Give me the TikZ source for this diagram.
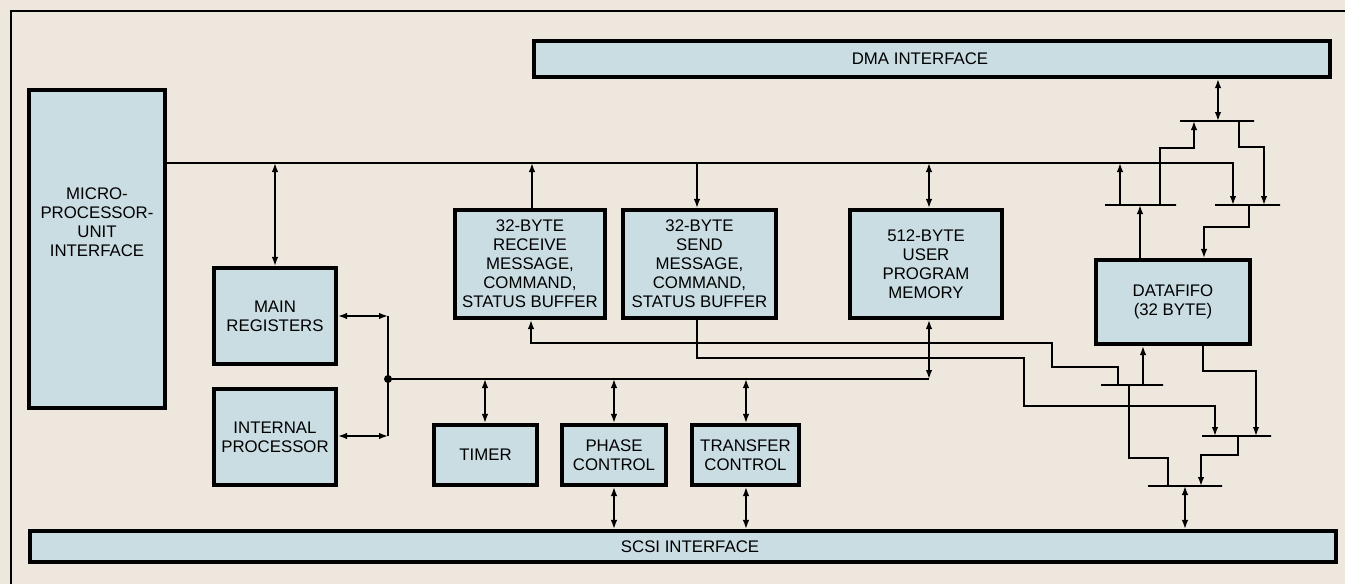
\documentclass[tikz,border=0pt]{standalone}
\usepackage{fontspec}
\setmainfont{Liberation Sans}
\usetikzlibrary{arrows.meta}
\definecolor{paper}{HTML}{EDE7DE}
\definecolor{boxblue}{HTML}{CADDE3}
\begin{document}
\begin{tikzpicture}[x=1pt,y=-1pt,
  blk/.style={draw=black, line width=3.6pt, fill=boxblue, inner sep=0pt, align=center,
    font=\fontsize{16.8}{19}\selectfont},
  lbl/.style={align=center, inner sep=0pt, font=\fontsize{16.8}{19}\selectfont},
  wire/.style={line width=1.6pt},
  arr/.style={wire,-{Latex[length=9pt,width=6.5pt]}},
  darr/.style={wire,{Latex[length=9pt,width=6.5pt]}-{Latex[length=9pt,width=6.5pt]}},
  bar/.style={draw=black, line width=1.7pt, inner sep=0pt, outer sep=0pt, minimum height=0pt},
  dot/.style={circle, fill=black, inner sep=0pt, minimum size=8pt}
]
\useasboundingbox (0,0) rectangle (1345,584);
\fill[paper] (0,0) rectangle (1345,584);
\draw[line width=1.2pt] (11,584) -- (11,11) -- (1345,11);

% blocks
\node[blk, minimum width=796.5pt, minimum height=36.5pt] (dma) at (932,59) {};
\node[lbl] (dmatext) at (920,59) {DMA INTERFACE};
\node[blk, minimum width=136.5pt, minimum height=318.5pt] (mpu) at (97,249) {};
\node[lbl] (mputext) at (97,222) {MICRO-\\PROCESSOR-\\UNIT\\INTERFACE};
\node[blk, minimum width=122.5pt, minimum height=96.5pt] (mainreg) at (275,316) {MAIN\\REGISTERS};
\node[blk, minimum width=122.5pt, minimum height=96.5pt] (intproc) at (275,437) {INTERNAL\\PROCESSOR};
\node[blk, minimum width=150.5pt, minimum height=108.5pt] (recv) at (530,264) {32-BYTE\\RECEIVE\\MESSAGE,\\COMMAND,\\STATUS BUFFER};
\node[blk, minimum width=153.5pt, minimum height=108.5pt] (send) at (699.5,264) {32-BYTE\\SEND\\MESSAGE,\\COMMAND,\\STATUS BUFFER};
\node[blk, minimum width=152.5pt, minimum height=108.5pt] (mem) at (926,264) {512-BYTE\\USER\\PROGRAM\\MEMORY};
\node[blk, minimum width=103.5pt, minimum height=60.5pt] (timer) at (485.5,455) {TIMER};
\node[blk, minimum width=104.5pt, minimum height=60.5pt] (phase) at (614,455) {PHASE\\CONTROL};
\node[blk, minimum width=107.5pt, minimum height=60.5pt] (transfer) at (745.5,455) {TRANSFER\\CONTROL};
\node[blk, minimum width=154.5pt, minimum height=84.5pt] (fifo) at (1173,302) {DATAFIFO\\(32 BYTE)};
\node[blk, minimum width=1306.5pt, minimum height=31.5pt] (scsi) at (683,546.5) {};
\node[lbl] (scsitext) at (690,546.5) {SCSI INTERFACE};

% multiplexer bars
\node[bar, minimum width=74pt] (barD) at (1217,121) {};
\node[bar, minimum width=65pt] (barE) at (1247.5,205) {};
\node[bar, minimum width=71pt] (barF) at (1140.5,205) {};
\node[bar, minimum width=62pt] (barA) at (1132,385) {};
\node[bar, minimum width=69pt] (barB) at (1236.5,436) {};
\node[bar, minimum width=74pt] (barC) at (1185,486) {};
\node[dot] (junc) at (388,379) {};

% upper bus
\draw[arr] (mpu.east |- 0,163) -- (1233,163) -- (1233,0 |- barE.north);
\draw[darr] (mainreg.north |- 0,163) -- (mainreg.north);
\draw[arr] (532,0 |- recv.north) -- (532,163);
\draw[arr] (697,163) -- (697,0 |- send.north);
\draw[darr] (929,163) -- (929,0 |- mem.north);
\draw[arr] (1120,0 |- barF.north) -- (1120,163);

% DMA side
\draw[darr] (1218,0 |- dma.south) -- (1218,0 |- barD.north);
\draw[arr] (1239,0 |- barD.south) -- (1239,147) -- (1264,147) -- (1264,0 |- barE.north);
\draw[arr] (1160,0 |- barF.north) -- (1160,148) -- (1194,148) -- (1194,0 |- barD.south);
\draw[arr] (1140,0 |- fifo.north) -- (1140,0 |- barF.south);
\draw[arr] (1249,0 |- barE.south) -- (1249,227) -- (1204,227) -- (1204,0 |- fifo.north);

% internal bus
\draw[darr] (mainreg.east |- 0,316) -- (388,316);
\draw[darr] (intproc.east |- 0,436) -- (388,436);
\draw[wire] (388,316) -- (388,436);
\draw[wire] (junc.center) -- (929,379);
\draw[darr] (929,379) -- (929,0 |- mem.south);
\draw[darr] (485,379) -- (485,0 |- timer.north);
\draw[darr] (614,379) -- (614,0 |- phase.north);
\draw[darr] (746,379) -- (746,0 |- transfer.north);
\draw[darr] (614,0 |- phase.south) -- (614,0 |- scsi.north);
\draw[darr] (746,0 |- transfer.south) -- (746,0 |- scsi.north);

% SCSI side
\draw[arr] (1118,0 |- barA.north) -- (1118,367) -- (1052,367) -- (1052,343) -- (531,343) -- (531,0 |- recv.south);
\draw[arr] (697,0 |- send.south) -- (697,358) -- (1024,358) -- (1024,406) -- (1215,406) -- (1215,0 |- barB.north);
\draw[arr] (1203,0 |- fifo.south) -- (1203,371) -- (1256,371) -- (1256,0 |- barB.north);
\draw[arr] (1143,0 |- barA.north) -- (1143,0 |- fifo.south);
\draw[arr] (1238,0 |- barB.south) -- (1238,455) -- (1201,455) -- (1201,0 |- barC.north);
\draw[wire] (1129,0 |- barA.south) -- (1129,458) -- (1168,458) -- (1168,0 |- barC.north);
\draw[darr] (1185,0 |- barC.south) -- (1185,0 |- scsi.north);
\end{tikzpicture}
\end{document}
